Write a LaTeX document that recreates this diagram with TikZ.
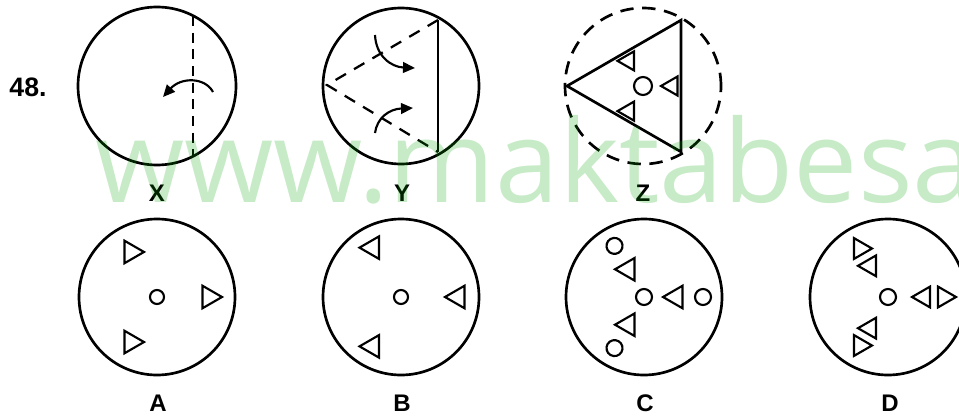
\documentclass[tikz,border=0pt]{standalone}
\usepackage{fontspec}
\setsansfont{Liberation Sans}
\newfontfamily\wmfont{Open Sans}
\usetikzlibrary{arrows.meta}

\definecolor{wmgreen}{RGB}{0,160,0}

\tikzset{
  rim/.style={line width=2pt},
  fold/.style={line width=1.7pt, dash pattern=on 7.5pt off 5pt},
  turn/.style={line width=1.6pt, -{Triangle[length=9pt,width=8pt]}},
  smalltri/.style={line width=1.6pt, line join=miter},
  hole/.style={line width=1.6pt},
  lbl/.style={font=\sffamily\bfseries\fontsize{18}{21}\selectfont, inner sep=0pt},
  wm/.style={font=\wmfont\fontsize{86}{94}\selectfont, text=wmgreen, text opacity=0.22, inner sep=0pt}
}

\begin{document}
\begin{tikzpicture}[x=0.75pt,y=0.75pt]
    \useasboundingbox (0,0) rectangle (959,419);

    % Číslo úlohy
    \node[lbl, font=\sffamily\bfseries\fontsize{20}{24}\selectfont] (num) at (28,332) {48.};

    % X: přeložení podle svislé čáry
    \begin{scope}[shift={(157,333)}]
        \draw[rim] (0,0) circle (79);
        \draw[fold] (36,70) -- (36,-70);
        \draw[turn] (56,-6) .. controls (48,9) and (24,9) .. (6,-11);
    \end{scope}

    % Y: svislá čára a přeložení do trojúhelníku
    \begin{scope}[shift={(401,333)}]
        \draw[rim] (0,0) circle (78);
        \draw[line width=1.7pt] (37,66) -- (37,-66);
        \draw[fold, dash pattern=on 9pt off 7pt] (37,66) -- (-74,1) -- (37,-66);
        \draw[turn] (-26,51) .. controls (-25,30) and (-10,19) .. (14,18);
        \draw[turn] (-26,-47) .. controls (-24,-32) and (-12,-23) .. (12,-22);
    \end{scope}

    % Z: trojúhelník s výstřihy
    \begin{scope}[shift={(643,333)}]
        \draw[rim, dash pattern=on 10pt off 6.5pt] (0,0) circle (78);
        \draw[rim, line join=miter] (180:76) -- (60:76) -- (-60:76) -- cycle;
        \draw[hole] (0,0) circle (9);
        \foreach \a in {0,120,240}
            \draw[smalltri, rotate=\a, shift={(29,0)}] (180:11) -- (60:11) -- (-60:11) -- cycle;
    \end{scope}

    % A
    \begin{scope}[shift={(157,122)}]
        \draw[rim] (0,0) circle (78);
        \draw[hole] (0,0) circle (7);
        \foreach \a in {0,120,240}
            \draw[smalltri, rotate=\a, shift={(52,0)}] (0:13) -- (120:13) -- (240:13) -- cycle;
    \end{scope}

    % B
    \begin{scope}[shift={(401,122)}]
        \draw[rim] (0,0) circle (78);
        \draw[hole] (0,0) circle (7);
        \foreach \a in {0,120,240}
            \draw[smalltri, rotate=\a, shift={(57,0)}] (180:13) -- (60:13) -- (-60:13) -- cycle;
    \end{scope}

    % C
    \begin{scope}[shift={(644,122)}]
        \draw[rim] (0,0) circle (78);
        \draw[hole] (0,0) circle (8);
        \foreach \a in {0,120,240} {
            \draw[smalltri, rotate=\a, shift={(32,0)}] (180:13) -- (60:13) -- (-60:13) -- cycle;
            \draw[hole, rotate=\a] (59,0) circle (8);
        }
    \end{scope}

    % D
    \begin{scope}[shift={(888,122)}]
        \draw[rim] (0,0) circle (78);
        \draw[hole] (0,0) circle (8);
        \foreach \a in {0,120,240} {
            \draw[smalltri, rotate=\a, shift={(36,0)}] (180:12) -- (60:12) -- (-60:12) -- cycle;
            \draw[smalltri, rotate=\a, shift={(56,0)}] (0:12) -- (120:12) -- (240:12) -- cycle;
        }
    \end{scope}

    % Popisky
    \node[lbl] (labX) at (157,226) {X};
    \node[lbl] (labY) at (402,226) {Y};
    \node[lbl] (labZ) at (643,226) {Z};
    \node[lbl] (labA) at (158,16) {A};
    \node[lbl] (labB) at (402,16) {B};
    \node[lbl] (labC) at (645,16) {C};
    \node[lbl] (labD) at (890,16) {D};

    % Vodoznak
    \node[wm, anchor=base west] (site) at (95,217) {www.maktabesa};
\end{tikzpicture}
\end{document}
